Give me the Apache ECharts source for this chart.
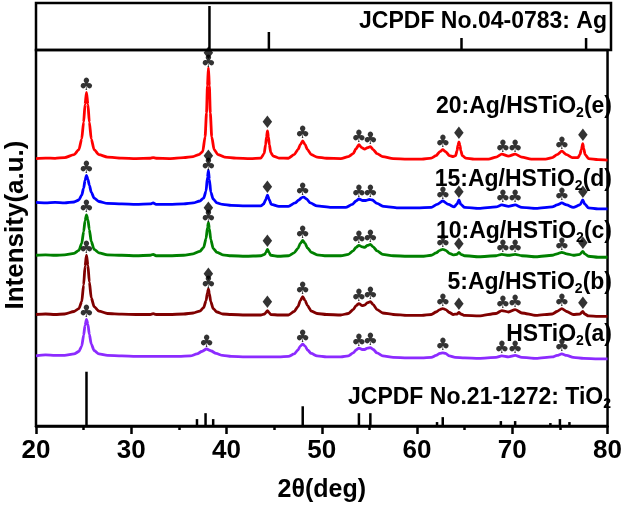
<!DOCTYPE html>
<html><head><meta charset="utf-8">
<script src="https://cdn.jsdelivr.net/npm/echarts@6/dist/echarts.min.js"></script>
<style>html,body{margin:0;padding:0;background:#fff}#c{width:625px;height:508px}</style>
</head><body><div id="c"></div>
<script>
// ---------- data ----------
const xTicks = [20, 30, 40, 50, 60, 70, 80];
const agSticks = [[38.1, 44], [44.3, 18], [64.4, 12], [77.4, 12]];
const tio2Sticks = [[25.3, 55], [36.9, 7], [37.8, 13], [38.6, 7], [48.0, 20], [53.9, 13], [55.1, 13], [62.1, 4], [62.7, 9], [68.8, 5], [70.3, 5], [74.0, 3], [75.0, 7], [76.0, 4]];

const curveE = [[20,0],[21,0.5],[22,0.2],[23,1],[24,4],[24.5,9],[24.8,20],[25.0,37],[25.15,55],[25.3,67],[25.45,55],[25.6,37],[25.8,20],[26.1,9],[26.6,4],[27.5,1.5],[29,0.5],[30.5,0],[32,0.3],[32.3,1],[32.6,0.3],[34,0],[35.5,1],[36.5,2],[37.1,4],[37.5,7],[37.75,22],[37.9,46],[38.0,74],[38.1,92],[38.2,74],[38.3,46],[38.45,22],[38.7,9],[39.1,4],[39.8,1.5],[41,0.5],[42.5,0],[43.6,0.5],[43.95,5],[44.1,14],[44.2,22],[44.3,28],[44.4,22],[44.5,14],[44.65,6],[44.9,2.5],[45.5,0.5],[46.5,0.3],[47.1,4],[47.5,9],[47.75,14],[48.0,18],[48.25,14],[48.5,9],[48.9,4],[49.5,1.5],[50.5,0.3],[52,0],[52.8,2],[53.3,5],[53.6,10],[53.9,14],[54.2,11],[54.5,9.5],[54.8,11],[55.1,12],[55.4,9],[55.8,5],[56.4,2],[57.5,0],[59,-0.5],[60.5,-0.5],[61.5,0.5],[62.0,3],[62.4,7],[62.7,9],[63.0,7],[63.4,3],[63.8,2],[64.05,3],[64.2,8],[64.3,13.5],[64.4,17],[64.5,13.5],[64.6,8],[64.75,3],[65.1,0.5],[66,-0.5],[67.5,-0.5],[68.3,1.5],[68.9,4.5],[69.6,2.5],[70.3,4.5],[71.0,1.5],[72,-0.5],[73.5,-0.5],[74.2,1],[74.7,4],[75.2,7.5],[75.7,4],[76.3,1],[76.9,1],[77.1,4],[77.25,9],[77.4,15],[77.5,10],[77.65,4],[78,0],[79,-1],[80,-1.5]];

const curveD = [[20,0.5],[21,0],[22,0.5],[23,0],[24,1],[24.5,3],[24.8,8],[25.0,15],[25.15,23],[25.3,28],[25.45,24],[25.6,18],[25.8,11],[26.1,5],[26.6,1.5],[27.5,-0.5],[29,-1],[30.5,-1.5],[32,-1],[32.3,0],[32.6,-1.5],[34,-1.5],[35.5,-1],[36.5,0],[37.2,2],[37.6,5],[37.85,12],[38.0,26],[38.1,33],[38.2,24],[38.35,11],[38.6,4],[39,0],[39.6,-1.5],[40.5,-2.5],[42,-3],[43.6,-3],[43.9,-1],[44.1,3],[44.3,8],[44.5,3],[44.7,-1.5],[45.5,-3.5],[46.5,-3.5],[47.2,0],[47.6,3],[47.9,5.5],[48.1,6],[48.4,4],[48.8,0],[49.5,-3],[51,-4.5],[52.5,-4.5],[53.2,-1.5],[53.6,2],[53.9,4],[54.3,2.5],[54.6,2.5],[55.0,3.5],[55.3,3],[55.8,-0.5],[56.5,-3.5],[58,-5],[60,-5],[61.5,-4.5],[62.1,-1.5],[62.7,2],[63.3,-1.5],[63.9,-4],[64.2,-1],[64.4,3],[64.6,-1.5],[65,-4.5],[66.5,-5.5],[68.3,-4],[68.9,-2],[69.6,-3.5],[70.3,-2],[71,-4.5],[72.5,-5.5],[74.2,-4],[74.7,-2],[75.2,0],[75.7,-2],[76.4,-4.5],[77.1,-2],[77.4,3],[77.6,-1],[78,-5],[79,-6],[80,-6]];

const curveC = [[20,0],[21,0.5],[22,0],[23,0.5],[24,2],[24.5,5],[24.8,12],[25.0,24],[25.15,35],[25.3,41],[25.45,36],[25.6,26],[25.8,14],[26.1,6],[26.6,2.5],[27.5,0.5],[29,0],[30.5,-0.5],[32,0],[32.3,1],[32.6,-0.5],[34,-0.5],[35.5,0],[36.5,1.5],[37.2,4],[37.6,8],[37.85,17],[38.0,28],[38.1,33],[38.2,27],[38.35,16],[38.6,7],[39,3],[39.6,0.5],[40.5,-0.5],[42,-1],[43.6,-0.5],[44.0,1],[44.15,3],[44.3,6],[44.45,3],[44.65,0],[45.5,-1],[46.5,-0.5],[47.1,2.5],[47.5,7],[47.75,12],[48.0,15],[48.25,12],[48.5,7.5],[48.9,3],[49.5,0.5],[50.5,-0.5],[52,-0.5],[52.8,1],[53.3,4.5],[53.6,8],[53.9,10],[54.25,8.5],[54.5,8],[54.8,10],[55.1,11],[55.4,8.5],[55.8,4.5],[56.4,1],[57.5,-0.5],[59,-1],[60.5,-1],[61.5,0],[62.0,2.5],[62.4,5],[62.7,6],[63.0,5],[63.4,2],[63.8,0.5],[64.2,1],[64.4,3],[64.6,1],[65,-0.5],[66.5,-1.5],[68.3,-0.5],[68.9,1],[69.6,0],[70.3,1],[71,-0.5],[72.5,-1.5],[74.2,0],[74.7,1.5],[75.2,3],[75.7,1.5],[76.4,0],[77.1,1],[77.4,4],[77.6,1.5],[78,-1],[79,-2],[80,-2]];

const curveB = [[20,0],[21,0.5],[22,0],[23,0.5],[24,3],[24.5,6],[24.8,13],[25.0,30],[25.15,49],[25.3,60],[25.45,50],[25.6,33],[25.8,17],[26.1,8],[26.6,3.5],[27.5,1],[29,0.3],[30.5,0],[32,0],[32.3,0.8],[32.6,0],[34,0],[35.5,0.5],[36.5,1.5],[37.2,3.5],[37.6,7],[37.85,14],[38.0,22],[38.1,26],[38.2,21],[38.35,13],[38.6,6],[39,2.5],[39.6,0.5],[40.5,0],[42,-0.5],[43.6,-0.5],[44.0,0.5],[44.15,2],[44.3,4],[44.45,2],[44.65,0],[45.5,-0.5],[46.5,-0.5],[47.1,3],[47.5,8],[47.75,14],[48.0,18],[48.25,14],[48.5,9],[48.9,3.5],[49.5,1],[50.5,0],[52,-0.5],[52.8,1],[53.3,5],[53.6,9],[53.9,11],[54.25,9],[54.5,9.5],[54.8,12],[55.1,13],[55.4,10],[55.8,5],[56.4,1.5],[57.5,0],[59,-1],[60.5,-1],[61.5,0],[62.0,2.5],[62.4,5],[62.7,6],[63.0,5],[63.4,2],[63.8,0],[64.2,0.5],[64.4,2],[64.6,0.5],[65,-1],[66.5,-1.5],[68.3,1],[68.9,4],[69.6,2.5],[70.3,5],[71,1.5],[72.5,-1],[74.2,0.5],[74.7,3],[75.2,6],[75.7,3],[76.4,0],[77.1,0.5],[77.4,3],[77.6,0.5],[78,-1.5],[79,-2],[80,-2]];

const curveA = [[20,0],[21,1],[22,0.5],[23,0.5],[24,2],[24.5,4.5],[24.8,10],[25.0,21],[25.15,31],[25.3,37],[25.45,32],[25.6,22],[25.8,12],[26.1,5.5],[26.6,2],[27.5,0.5],[29,0],[30.5,-0.5],[32,-0.5],[33.5,-0.5],[35,-0.5],[36.2,0],[36.9,2],[37.4,4.5],[37.9,7],[38.4,5],[38.9,2.5],[39.6,0.5],[40.5,-0.5],[42,-1],[44,-1],[45.5,-1],[46.5,-0.5],[47.1,2],[47.5,6],[47.75,10],[48.0,12],[48.25,10],[48.5,6],[48.9,2.5],[49.5,0],[50.5,-1],[52,-1],[52.8,0],[53.3,3],[53.6,6],[53.9,8],[54.25,6.5],[54.5,6.5],[54.8,8],[55.1,8.5],[55.4,6.5],[55.8,3],[56.4,0],[57.5,-1.5],[59,-2],[60.5,-2],[61.5,-1.5],[62.0,0.5],[62.4,2.5],[62.7,3],[63.0,2.5],[63.4,0],[64,-1.5],[65,-2],[66.5,-2.5],[68.3,-1.5],[68.9,0],[69.6,-1],[70.3,0.5],[71,-1.5],[72.5,-2.5],[74.2,-1],[74.7,0.5],[75.2,2],[75.7,0.5],[76.4,-1.5],[77.5,-2.5],[79,-3],[80,-3]];

const offsets = [271, 226, 173, 113, 71];              // e, d, c, b, a stacking offsets
const seriesColors = ['#ff0000', '#0000ff', '#008000', '#800000', '#8c2bff'];
const sampleLabels = [['20:Ag/HSTiO', '2', '(e)'], ['15:Ag/HSTiO', '2', '(d)'], ['10:Ag/HSTiO', '2', '(c)'], ['5:Ag/HSTiO', '2', '(b)'], ['HSTiO', '2', '(a)']];
// markers: c = anatase (club), d = Ag (diamond), dc = both stacked
const markersAg = [[25.3,'c'],[38.1,'dc'],[44.3,'d'],[48.0,'c'],[53.9,'c'],[55.1,'c'],[62.7,'c'],[64.4,'d'],[69.0,'c'],[70.3,'c'],[75.2,'c'],[77.4,'d']];
const markersA = [[25.3,'c'],[37.9,'c'],[48.0,'c'],[53.9,'c'],[55.1,'c'],[62.7,'c'],[68.9,'c'],[70.3,'c'],[75.2,'c']];

// ---------- build ----------
const curves = [curveE, curveD, curveC, curveB, curveA];
const markerSets = [markersAg, markersAg, markersAg, markersAg, markersA];
const labelY = [107, 180, 232, 283, 335];
const FONT = 'Liberation Sans';

function peakAt(curve, x) {
  let m = -Infinity;
  curve.forEach(p => { if (Math.abs(p[0] - x) <= 0.35) m = Math.max(m, p[1]); });
  return m;
}
const markerData = [];
curves.forEach((c, i) => {
  markerSets[i].forEach(([x, t]) => {
    const top = peakAt(c, x) + offsets[i];
    if (t === 'c') markerData.push([x, top + 7, '♣']);
    else if (t === 'd') markerData.push([x, top + 7, '♦']);
    else { markerData.push([x, top + 5, '♣']); markerData.push([x, top + 13, '♦']); }
  });
});

function sticks(xi, yi, data) {
  return {
    type: 'custom', xAxisIndex: xi, yAxisIndex: yi, data: data, silent: true,
    encode: { x: 0, y: 1 },
    renderItem: (params, api) => {
      const p0 = api.coord([api.value(0), 0]);
      const p1 = api.coord([api.value(0), api.value(1)]);
      return { type: 'line', shape: { x1: p0[0], y1: p0[1], x2: p1[0], y2: p1[1] }, style: { stroke: '#000', lineWidth: 2.5 } };
    }
  };
}

const rich = {
  n: { fontSize: 23, fontWeight: 'bold', fontFamily: FONT, fill: '#000', lineHeight: 26 },
  s: { fontSize: 14, fontWeight: 'bold', fontFamily: FONT, fill: '#000', lineHeight: 4, verticalAlign: 'bottom' }
};
function richLabel(parts, x, y) {
  return { type: 'text', x: x, y: y, z: 100,
    style: { text: '{n|' + parts[0] + '}{s|' + parts[1] + '}{n|' + parts[2] + '}', rich: rich, align: 'right', verticalAlign: 'middle' } };
}

const graphics = [
  { type: 'text', x: 16, y: 225, rotation: Math.PI / 2, z: 100,
    style: { text: 'Intensity(a.u.)', font: 'bold 26px "' + FONT + '"', fill: '#000', align: 'center', verticalAlign: 'middle' } },
  { type: 'text', x: 607, y: 22, z: 100,
    style: { text: 'JCPDF No.04-0783: Ag', font: 'bold 23px "' + FONT + '"', fill: '#000', align: 'right', verticalAlign: 'middle' } },
  richLabel(['JCPDF No.21-1272: TiO', '2', ''], 611, 398)
];
sampleLabels.forEach((p, i) => graphics.push(richLabel(p, 612, labelY[i])));

const series = [sticks(0, 0, agSticks), sticks(1, 1, tio2Sticks)];
curves.slice().reverse().forEach((c, ri) => {
  const i = curves.length - 1 - ri;
  series.push({
    type: 'line', xAxisIndex: 1, yAxisIndex: 1, showSymbol: false, smooth: 0.25, smoothMonotone: 'x',
    data: c.map(p => [p[0], p[1] + offsets[i]]),
    lineStyle: { color: seriesColors[i], width: 2.8 }, itemStyle: { color: seriesColors[i] }
  });
});
series.push({
  type: 'scatter', xAxisIndex: 1, yAxisIndex: 1, data: markerData, symbolSize: 1, z: 10,
  itemStyle: { color: 'rgba(0,0,0,0)' },
  label: { show: true, position: 'inside', formatter: p => p.value[2], fontSize: 17, fontFamily: 'DejaVu Sans', color: '#000' }
});

const chart = echarts.init(document.getElementById('c'), null, { renderer: 'canvas' });
chart.setOption({
  animation: false,
  backgroundColor: '#fff',
  grid: [
    { left: 36, right: 14, top: 3, height: 47, show: true, borderColor: '#000', borderWidth: 2.5 },
    { left: 36, right: 14, top: 50, height: 381, show: true, borderColor: '#000', borderWidth: 2.5 }
  ],
  xAxis: [
    { gridIndex: 0, type: 'value', min: 20, max: 80, interval: 10, show: false },
    { gridIndex: 1, type: 'value', min: 20, max: 80, interval: 10,
      axisLine: { lineStyle: { color: '#000', width: 2.5 } },
      axisTick: { length: 8, lineStyle: { color: '#000', width: 2.5 } },
      minorTick: { show: true, splitNumber: 2, length: 4, lineStyle: { color: '#000', width: 2.5 } },
      splitLine: { show: false },
      axisLabel: { fontSize: 26, fontWeight: 'bold', fontFamily: FONT, color: '#000', margin: 12,
        formatter: v => xTicks.includes(v) ? String(v) : '' },
      name: '2θ(deg)', nameLocation: 'middle', nameGap: 52,
      nameTextStyle: { fontSize: 25, fontWeight: 'bold', fontFamily: FONT, color: '#000' } }
  ],
  yAxis: [
    { gridIndex: 0, type: 'value', min: 0, max: 47, show: false },
    { gridIndex: 1, type: 'value', min: 0, max: 381, show: false }
  ],
  graphic: graphics,
  series: series
});
</script></body></html>
